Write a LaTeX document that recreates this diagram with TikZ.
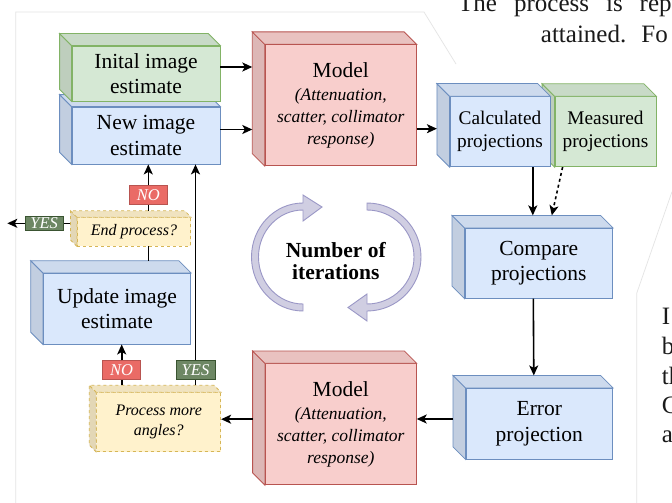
\documentclass[tikz,border=0pt]{standalone}
\usepackage{fontspec}
\setmainfont{Liberation Serif}
\usetikzlibrary{arrows.meta, calc}

\definecolor{greenfill}{HTML}{D5E8D4}
\definecolor{greenline}{HTML}{82B366}
\definecolor{bluefill}{HTML}{DAE8FC}
\definecolor{blueline}{HTML}{6C8EBF}
\definecolor{redfill}{HTML}{F8CECC}
\definecolor{redline}{HTML}{B85450}
\definecolor{yellowfill}{HTML}{FFF2CC}
\definecolor{yellowline}{HTML}{D6B656}
\definecolor{yesfill}{HTML}{6D8764}
\definecolor{yesline}{HTML}{3A5431}
\definecolor{nofill}{HTML}{EA6B66}
\definecolor{noline}{HTML}{B85450}
\definecolor{loopfill}{HTML}{D0CEE2}
\definecolor{loopline}{HTML}{9A97C6}
\definecolor{pageink}{HTML}{1A1A1A}
\definecolor{framegray}{HTML}{E4E4E4}

% top and left faces of a box: node, depth, colour, extra options
\newcommand{\cubefaces}[4]{%
  \filldraw[line width=0.8pt, draw=#3line, fill=#3fill!89!black, #4]
    (#1.south west) -- ++(-#2,-#2) -- ([shift={(-#2,-#2)}]#1.north west) -- (#1.north west) -- cycle;
  \filldraw[line width=0.8pt, draw=#3line, fill=#3fill!94!black, #4]
    (#1.north west) -- ++(-#2,-#2) -- ([shift={(-#2,-#2)}]#1.north east) -- (#1.north east) -- cycle;}

\newcommand{\mdlfont}{\itshape\fontsize{17.5}{22}\selectfont}
\newcommand{\modeltext}{Model\\[-2pt]{\mdlfont (Attenuation,}\\[-3.6pt]{\mdlfont scatter, collimator}\\[-3.6pt]{\mdlfont response)}}

\begin{document}
\begin{tikzpicture}[x=1pt, y=-1pt,
    cubebox/.style={draw, line width=0.8pt, inner sep=0pt, align=center,
      font=\fontsize{21.5}{25.3}\selectfont},
    greenbox/.style={cubebox, fill=greenfill, draw=greenline},
    bluebox/.style={cubebox, fill=bluefill, draw=blueline},
    redbox/.style={cubebox, fill=redfill, draw=redline, minimum width=151pt, minimum height=121pt},
    askbox/.style={cubebox, fill=yellowfill, draw=yellowline, dashed,
      font=\itshape\fontsize{16}{20.5}\selectfont},
    answer/.style={draw, line width=0.8pt, inner sep=0pt, minimum width=38pt,
      minimum height=18.6pt, text=white, font=\itshape\fontsize{16.5}{18}\selectfont},
    yestag/.style={answer, fill=yesfill, draw=yesline},
    notag/.style={answer, fill=nofill, draw=noline},
    flow/.style={-{Stealth[length=10pt, width=9pt, inset=2.5pt]}, line width=1.6pt},
    wire/.style={line width=1.6pt},
    cycler/.style={fill=loopfill, draw=loopline, line width=0.9pt},
    pagetext/.style={anchor=base west, inner sep=0pt, text=pageink,
      font=\fontsize{25}{30}\selectfont},
    pageframe/.style={draw=framegray, line width=0.7pt}
  ]
  \useasboundingbox (0,0) rectangle (672,503);
  \fill[white] (0,0) rectangle (672,503);

  % surrounding page
  \begin{scope}
    \clip (0,0) rectangle (672,503);
    \draw[pageframe] (15.7,503) -- (15.7,12) -- (424,12) -- (456,64);
    \draw[pageframe] (672,191.7) -- (636.7,293.3) -- (636.7,503);
    \node[pagetext] (pagetop) at (458,11.5) {\spaceskip=17pt The process is rep};
    \node[pagetext] (pagesub) at (540.7,42.7) {\spaceskip=13pt attained. Fo};
    \foreach \y/\nm/\txt in {324/pageI/I, 354/pageb/b, 384/pageth/th, 413/pageC/C, 442/pagea/a}
    {\node[pagetext] (\nm) at (661.7,\y) {\txt};}
  \end{scope}

  % boxes
  \node[bluebox, minimum width=148pt, minimum height=57pt] (new) at (146,135.5) {New image\\estimate};
  \cubefaces{new}{12}{blue}{}
  \node[greenbox, minimum width=148pt, minimum height=55pt] (init) at (146,73.5) {Inital image\\estimate};
  \cubefaces{init}{12}{green}{}
  \node[redbox] (modelA) at (340.7,105.3) {\modeltext};
  \cubefaces{modelA}{12.5}{red}{}
  \node[greenbox, minimum width=101pt, minimum height=70pt, font=\fontsize{19.3}{23}\selectfont] (meas) at (605.5,131.7) {Measured\\projections};
  \cubefaces{meas}{12.5}{green}{}
  \node[bluebox, minimum width=100pt, minimum height=70pt, font=\fontsize{19.3}{23}\selectfont] (calc) at (500,131.7) {Calculated\\projections};
  \cubefaces{calc}{12.7}{blue}{}
  \node[bluebox, minimum width=147.7pt, minimum height=70pt] (compare) at (538.8,263.3) {Compare\\projections};
  \cubefaces{compare}{12.5}{blue}{}
  \node[bluebox, minimum width=146.7pt, minimum height=70.7pt] (error) at (539.3,423.7) {Error\\projection};
  \cubefaces{error}{12.5}{blue}{}
  \node[redbox] (modelB) at (340.8,424.2) {\modeltext};
  \cubefaces{modelB}{12.3}{red}{}
  \node[bluebox, minimum width=147.4pt, minimum height=70.7pt] (update) at (117,308.7) {Update image\\estimate};
  \cubefaces{update}{12.2}{blue}{}
  \node[askbox, minimum width=113.4pt, minimum height=28.3pt] (endp) at (134,231.8) {End process?};
  \cubefaces{endp}{6.5}{yellow}{dashed}
  \node[askbox, minimum width=124pt, minimum height=59pt] (procm) at (158.7,422.2) {Process more\\angles?};
  \cubefaces{procm}{7}{yellow}{dashed}

  % iteration arrows
  \filldraw[cycler] (303,311) arc[start angle=90, end angle=270, x radius=51.5, y radius=54]
    -- (303,195) -- (322,207) -- (303,221) -- (303,210)
    arc[start angle=270, end angle=90, x radius=44.5, y radius=47] -- cycle;
  \filldraw[cycler] (367,203) arc[start angle=270, end angle=450, radius=54]
    -- (367,321) -- (348,307.5) -- (367,294) -- (367,304)
    arc[start angle=90, end angle=-90, radius=47] -- cycle;
  \node[align=center, font=\bfseries\fontsize{21.5}{22}\selectfont] (iter) at (335.8,260.7) {Number of\\iterations};

  % answers
  \node[yestag, minimum width=38.3pt, minimum height=14.7pt] (yesA) at (44.2,223.3) {YES};
  \node[notag] (noA) at (148.3,195) {NO};
  \node[notag] (noB) at (121.7,370) {NO};
  \node[yestag, minimum width=39pt] (yesB) at (195.5,370) {YES};
  \coordinate (exit) at (7.3,223.3);

  % connectors
  \draw[flow] ($(init.east)+(0,-6.5)$) -- ($(init.east -| modelA.west)+(-12.5,-6.5)$);
  \draw[flow] ($(new.east)+(0,-6)$) -- ($(new.east -| modelA.west)+(-12.5,-6)$);
  \draw[flow] ($(modelA.east |- calc.west)+(0,-3)$) -- ($(calc.west)+(-12.7,-3)$);
  \draw[flow] ($(compare.north |- calc.south)+(-6,0)$) -- ($(compare.north)+(-6,-12.5)$);
  \draw[flow, dashed] ($(meas.south west)+(8,0)$) -- ($(compare.north)+(13,-12.5)$);
  \draw[flow] ($(compare.south)+(-5.5,0)$) -- ($(error.north)+(-5.5,-12.5)$);
  \draw[flow] ($(error.west)+(-12.5,-4.7)$) -- ($(error.west -| modelB.east)+(0,-4.7)$);
  \draw[flow] ($(modelB.west)+(-12.3,-5)$) -- ($(modelB.west -| procm.east)+(0,-5)$);
  \draw[wire] ($(noB |- procm.north)+(0,-7)$) -- (noB);
  \draw[flow] (noB) -- (noB |- update.south);
  \draw[wire] ($(yesB |- procm.north)+(0,-7)$) -- (yesB);
  \draw[flow] (yesB) -- (yesB |- new.south);
  \draw[wire] ($(noA |- update.north)+(0,-12.2)$) -- (noA |- endp.south);
  \draw[wire] ($(noA |- endp.north)+(0,-6.5)$) -- (noA);
  \draw[flow] (noA) -- (noA |- new.south);
  \draw[wire] ($(yesA -| endp.west)+(-6.5,0)$) -- (yesA);
  \draw[flow] (yesA) -- (exit);
\end{tikzpicture}
\end{document}
